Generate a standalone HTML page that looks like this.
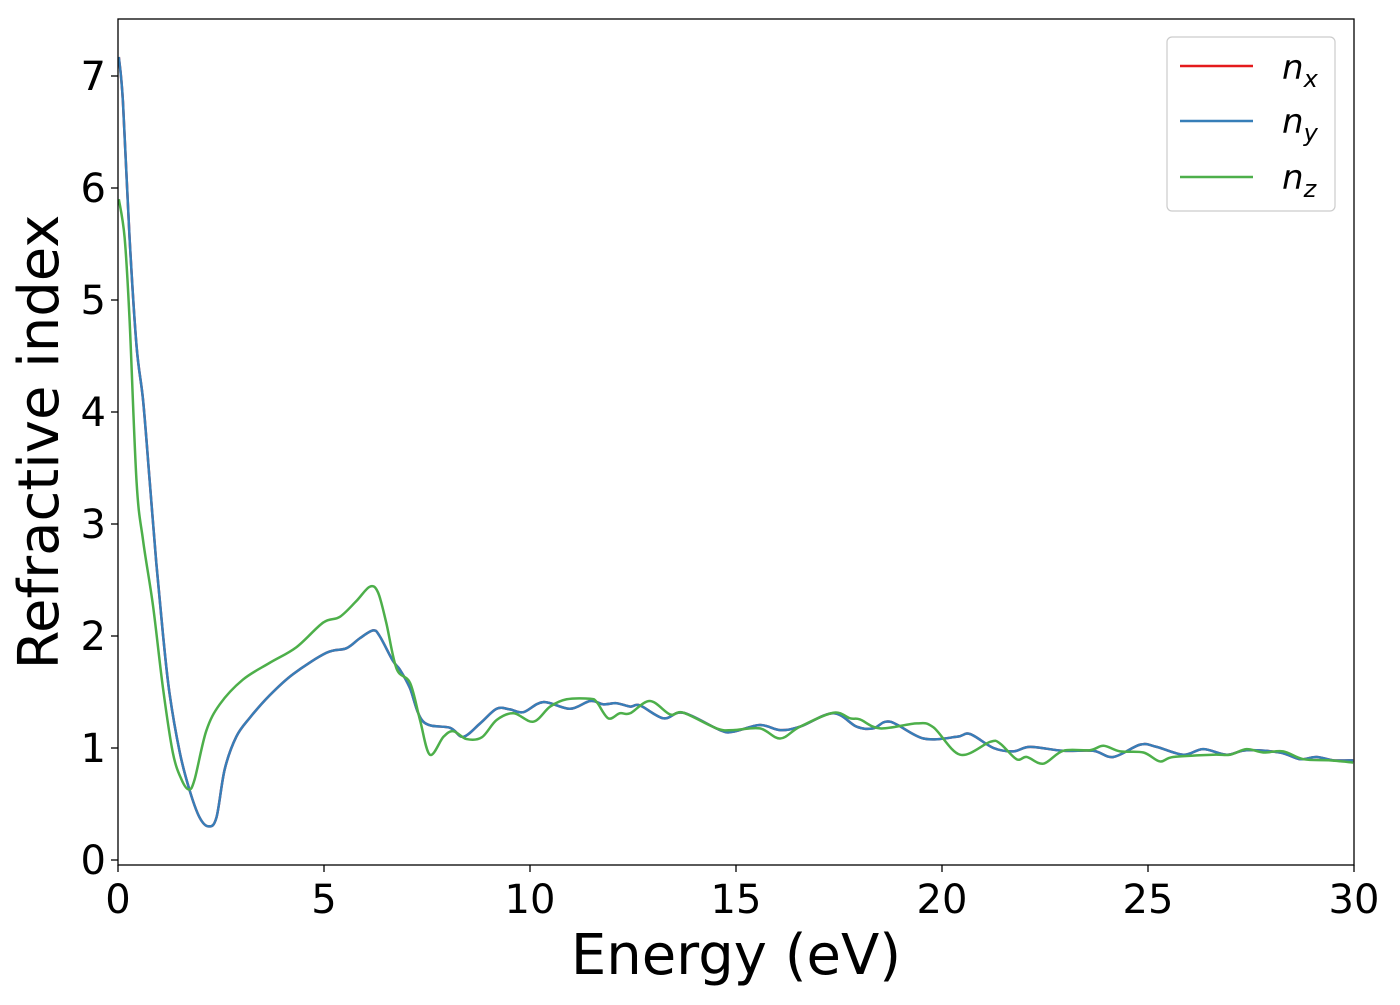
<!DOCTYPE html>
<html><head><meta charset="utf-8"><style>
body{margin:0;background:#fff;}
svg text{font-family:"DejaVu Sans","Liberation Sans",sans-serif;fill:#000;}
</style></head><body>
<svg id="chart" width="1400" height="1000" viewBox="0 0 1400 1000" xmlns="http://www.w3.org/2000/svg">
<rect width="1400" height="1000" fill="#fff"/>
<g id="axes"></g>
<g id="series"></g>
<rect x="118" y="19" width="1236" height="846" fill="none" stroke="#000" stroke-width="1.3"/>
<g>
<rect x="1167" y="37" width="168" height="174" rx="5" fill="#fff" fill-opacity="0.8" stroke="#ccc" stroke-width="1.2"/>
<g><line x1="1180" y1="66" x2="1253" y2="66" stroke="#e41a1c" stroke-width="2.5"/><text x="1282" y="79" font-size="34" font-style="italic">n<tspan font-size="24" dy="8">x</tspan></text></g>
<g><line x1="1180" y1="121" x2="1253" y2="121" stroke="#377eb8" stroke-width="2.5"/><text x="1282" y="133" font-size="34" font-style="italic">n<tspan font-size="24" dy="8">y</tspan></text></g>
<g><line x1="1180" y1="177" x2="1253" y2="177" stroke="#4daf4a" stroke-width="2.5"/><text x="1282" y="189" font-size="34" font-style="italic">n<tspan font-size="24" dy="8">z</tspan></text></g>
</g>
<text x="736" y="974" font-size="56" text-anchor="middle">Energy (eV)</text>
<text transform="translate(58,442) rotate(-90)" font-size="56" text-anchor="middle">Refractive index</text>
</svg>
<script>
const xTicks=[0,5,10,15,20,25,30];
const yTicks=[0,1,2,3,4,5,6,7];
const energyXY=[0.02,0.12,0.28,0.45,0.61,0.77,0.93,1.09,1.25,1.5,1.74,1.98,2.2,2.39,2.59,2.87,3.2,3.68,4.25,5.06,5.54,5.87,6.19,6.35,6.67,6.84,7.08,7.41,8.06,8.38,8.79,9.19,9.51,9.84,10.32,10.97,11.46,11.78,12.1,12.43,12.67,13.24,13.72,14.61,14.93,15.58,16.07,16.55,17.36,17.93,18.33,18.74,19.55,20.36,20.68,21.25,21.73,22.14,22.94,23.67,24.16,24.81,25.21,25.86,26.34,26.91,27.39,28.2,28.69,29.09,29.5,29.98];
const nxValues=[7.17,6.77,5.56,4.59,4.1,3.38,2.65,2.02,1.49,0.96,0.62,0.38,0.30,0.38,0.81,1.10,1.27,1.47,1.66,1.85,1.89,1.98,2.05,2.0,1.78,1.70,1.54,1.235,1.18,1.10,1.22,1.35,1.345,1.32,1.41,1.35,1.42,1.39,1.40,1.37,1.38,1.265,1.315,1.16,1.145,1.205,1.16,1.19,1.31,1.19,1.175,1.235,1.085,1.10,1.125,1.0,0.97,1.01,0.975,0.975,0.92,1.03,1.01,0.94,0.99,0.94,0.98,0.96,0.90,0.92,0.89,0.89];
const nyValues=nxValues.slice();
const energyZ=[0.02,0.16,0.28,0.45,0.61,0.85,1.09,1.33,1.54,1.72,1.86,2.14,2.47,3.03,3.68,4.33,4.98,5.38,5.78,6.11,6.31,6.51,6.76,7.09,7.33,7.57,7.9,8.14,8.46,8.83,9.19,9.6,10.08,10.49,10.89,11.46,11.62,11.9,12.18,12.43,12.91,13.4,13.72,14.53,14.93,15.58,16.07,16.55,17.36,17.77,18.01,18.5,19.39,19.79,20.44,21.17,21.41,21.81,22.06,22.46,22.94,23.59,23.92,24.32,24.89,25.29,25.61,26.58,26.99,27.39,27.8,28.28,28.77,29.42,29.98];
const nzValues=[5.9,5.56,4.83,3.38,2.85,2.27,1.54,0.96,0.72,0.63,0.72,1.15,1.39,1.61,1.76,1.9,2.12,2.17,2.31,2.44,2.39,2.12,1.71,1.58,1.25,0.94,1.10,1.15,1.08,1.095,1.25,1.31,1.235,1.37,1.435,1.44,1.41,1.265,1.31,1.31,1.42,1.30,1.315,1.175,1.16,1.175,1.085,1.19,1.315,1.265,1.255,1.175,1.22,1.185,0.94,1.055,1.04,0.90,0.92,0.86,0.975,0.98,1.02,0.97,0.96,0.88,0.92,0.94,0.94,0.99,0.96,0.97,0.90,0.89,0.87];
const X=e=>118+e*41.2, Y=n=>860-n*112;
const NS="http://www.w3.org/2000/svg";
const axes=document.getElementById('axes'), series=document.getElementById('series');
xTicks.forEach(t=>{
 const l=document.createElementNS(NS,'line');
 
 
 l.setAttribute('x1',X(t));l.setAttribute('x2',X(t));l.setAttribute('y1',865);l.setAttribute('y2',872);l.setAttribute('stroke','#000');l.setAttribute('stroke-width','1.3');axes.appendChild(l);
 const tx=document.createElementNS(NS,'text');
 
 
 tx.setAttribute('x',X(t));tx.setAttribute('y',913);tx.setAttribute('font-size','40');tx.setAttribute('text-anchor','middle');tx.textContent=t;axes.appendChild(tx);
});
yTicks.forEach(t=>{
 const l=document.createElementNS(NS,'line');
 
 
 l.setAttribute('x1',111);l.setAttribute('x2',118);l.setAttribute('y1',Y(t));l.setAttribute('y2',Y(t));l.setAttribute('stroke','#000');l.setAttribute('stroke-width','1.3');axes.appendChild(l);
 const tx=document.createElementNS(NS,'text');
 
 
 tx.setAttribute('x',106);tx.setAttribute('y',Y(t)+14);tx.setAttribute('font-size','40');tx.setAttribute('text-anchor','end');tx.textContent=t;axes.appendChild(tx);
});
function pathD(xs,ys){
 const p=xs.map((e,i)=>[X(e),Y(ys[i])]);
 let d='M'+p[0][0]+','+p[0][1];
 for(let i=0;i<p.length-1;i++){
  const p0=p[Math.max(0,i-1)],p1=p[i],p2=p[i+1],p3=p[Math.min(p.length-1,i+2)];
  const c1=[p1[0]+(p2[0]-p0[0])/6,p1[1]+(p2[1]-p0[1])/6];
  const c2=[p2[0]-(p3[0]-p1[0])/6,p2[1]-(p3[1]-p1[1])/6];
  d+=' C'+c1.join(',')+' '+c2.join(',')+' '+p2.join(',');
 }
 return d;
}
function addLine(xs,ys,color,name){
 const el=document.createElementNS(NS,'path');
 
 
 el.setAttribute('d',pathD(xs,ys));el.setAttribute('fill','none');el.setAttribute('stroke',color);el.setAttribute('stroke-width','2.5');
 series.appendChild(el);
}
addLine(energyXY,nxValues,'#e41a1c','nx-line');
addLine(energyXY,nyValues,'#377eb8','ny-line');
addLine(energyZ,nzValues,'#4daf4a','nz-line');
</script>
</body></html>
